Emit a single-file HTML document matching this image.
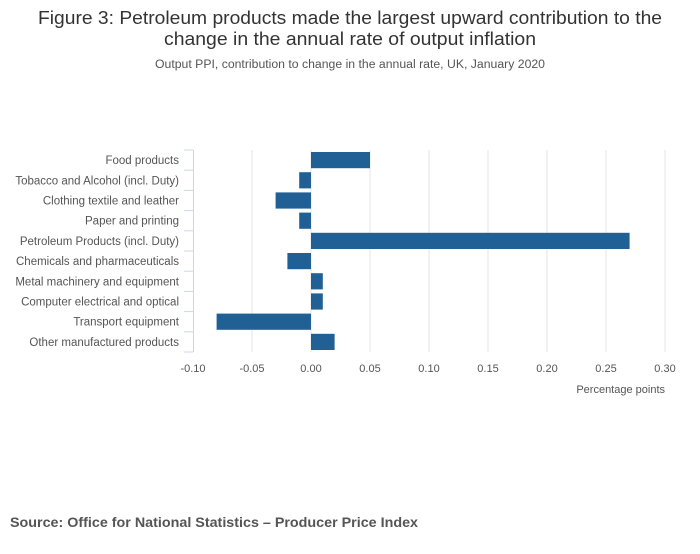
<!DOCTYPE html>
<html><head><meta charset="utf-8"><style>
body{margin:0;background:#fff;width:700px;height:549px;overflow:hidden;font-family:"Liberation Sans",sans-serif}
</style></head><body>
<svg width="700" height="549" font-family="'Liberation Sans',sans-serif">
<text x="350" y="24" text-anchor="middle" font-size="18" textLength="624" lengthAdjust="spacingAndGlyphs" fill="#333">Figure 3: Petroleum products made the largest upward contribution to the</text>
<text x="350" y="45" text-anchor="middle" font-size="18" textLength="372" lengthAdjust="spacingAndGlyphs" fill="#333">change in the annual rate of output inflation</text>
<text x="350" y="68" text-anchor="middle" font-size="11.5" textLength="390" lengthAdjust="spacingAndGlyphs" fill="#555">Output PPI, contribution to change in the annual rate, UK, January 2020</text>
<g id="grid"></g><g id="bars"></g><g id="axes"></g>
<text x="665" y="393" text-anchor="end" font-size="11" fill="#555">Percentage points</text>
<text x="10" y="527" font-size="14" font-weight="bold" textLength="408" lengthAdjust="spacingAndGlyphs" fill="#555">Source: Office for National Statistics – Producer Price Index</text>
</svg>
<script>
const categories=["Food products","Tobacco and Alcohol (incl. Duty)","Clothing textile and leather","Paper and printing","Petroleum Products (incl. Duty)","Chemicals and pharmaceuticals","Metal machinery and equipment","Computer electrical and optical","Transport equipment","Other manufactured products"];
const values=[0.05,-0.01,-0.03,-0.01,0.27,-0.02,0.01,0.01,-0.08,0.02];
const ticks=[-0.10,-0.05,0,0.05,0.10,0.15,0.20,0.25,0.30];
const tickLabels=["-0.10","-0.05","0.00","0.05","0.10","0.15","0.20","0.25","0.30"];
const NS="http://www.w3.org/2000/svg";
const x0=193,x1=665,vmin=-0.10,vmax=0.30,yTop=150,yBottom=352;
const band=(yBottom-yTop)/categories.length;
const xs=v=>x0+(v-vmin)/(vmax-vmin)*(x1-x0);
const ys=i=>yTop+i*band;
function mk(p,t,a){const e=document.createElementNS(NS,t);for(const k in a)e.setAttribute(k,a[k]);p.appendChild(e);return e;}
const grid=document.getElementById('grid'),bars=document.getElementById('bars'),axes=document.getElementById('axes');
ticks.forEach((t,i)=>{
 if(i>0){const l=mk(grid,'line',{x1:xs(t),x2:xs(t),y1:yTop,y2:yBottom,stroke:'#e6e6e6','stroke-width':1});
 
 }
 const tx=mk(axes,'text',{x:xs(t),y:yBottom+20,'text-anchor':'middle','font-size':11,fill:'#555'});
 tx.textContent=tickLabels[i];
 
 
});
const ax=mk(axes,'line',{x1:x0+0.5,x2:x0+0.5,y1:yTop,y2:yBottom,stroke:'#ccd6eb','stroke-width':1});


for(let i=0;i<=categories.length;i++){
 const tk=mk(axes,'line',{x1:x0-9,x2:x0,y1:ys(i),y2:ys(i),stroke:'#ccd6eb','stroke-width':1});
 
 
}
categories.forEach((c,i)=>{
 const v=values[i];
 const r=mk(bars,'rect',{x:Math.min(xs(0),xs(v)),y:ys(i)+2,width:Math.abs(xs(v)-xs(0)),height:band-4,fill:'#206095'});
 
 
 const t=mk(axes,'text',{x:x0-14,y:ys(i)+band/2+4,'text-anchor':'end','font-size':11.5,fill:'#555'});
 t.textContent=c;
 
 
});
</script>
</body></html>
